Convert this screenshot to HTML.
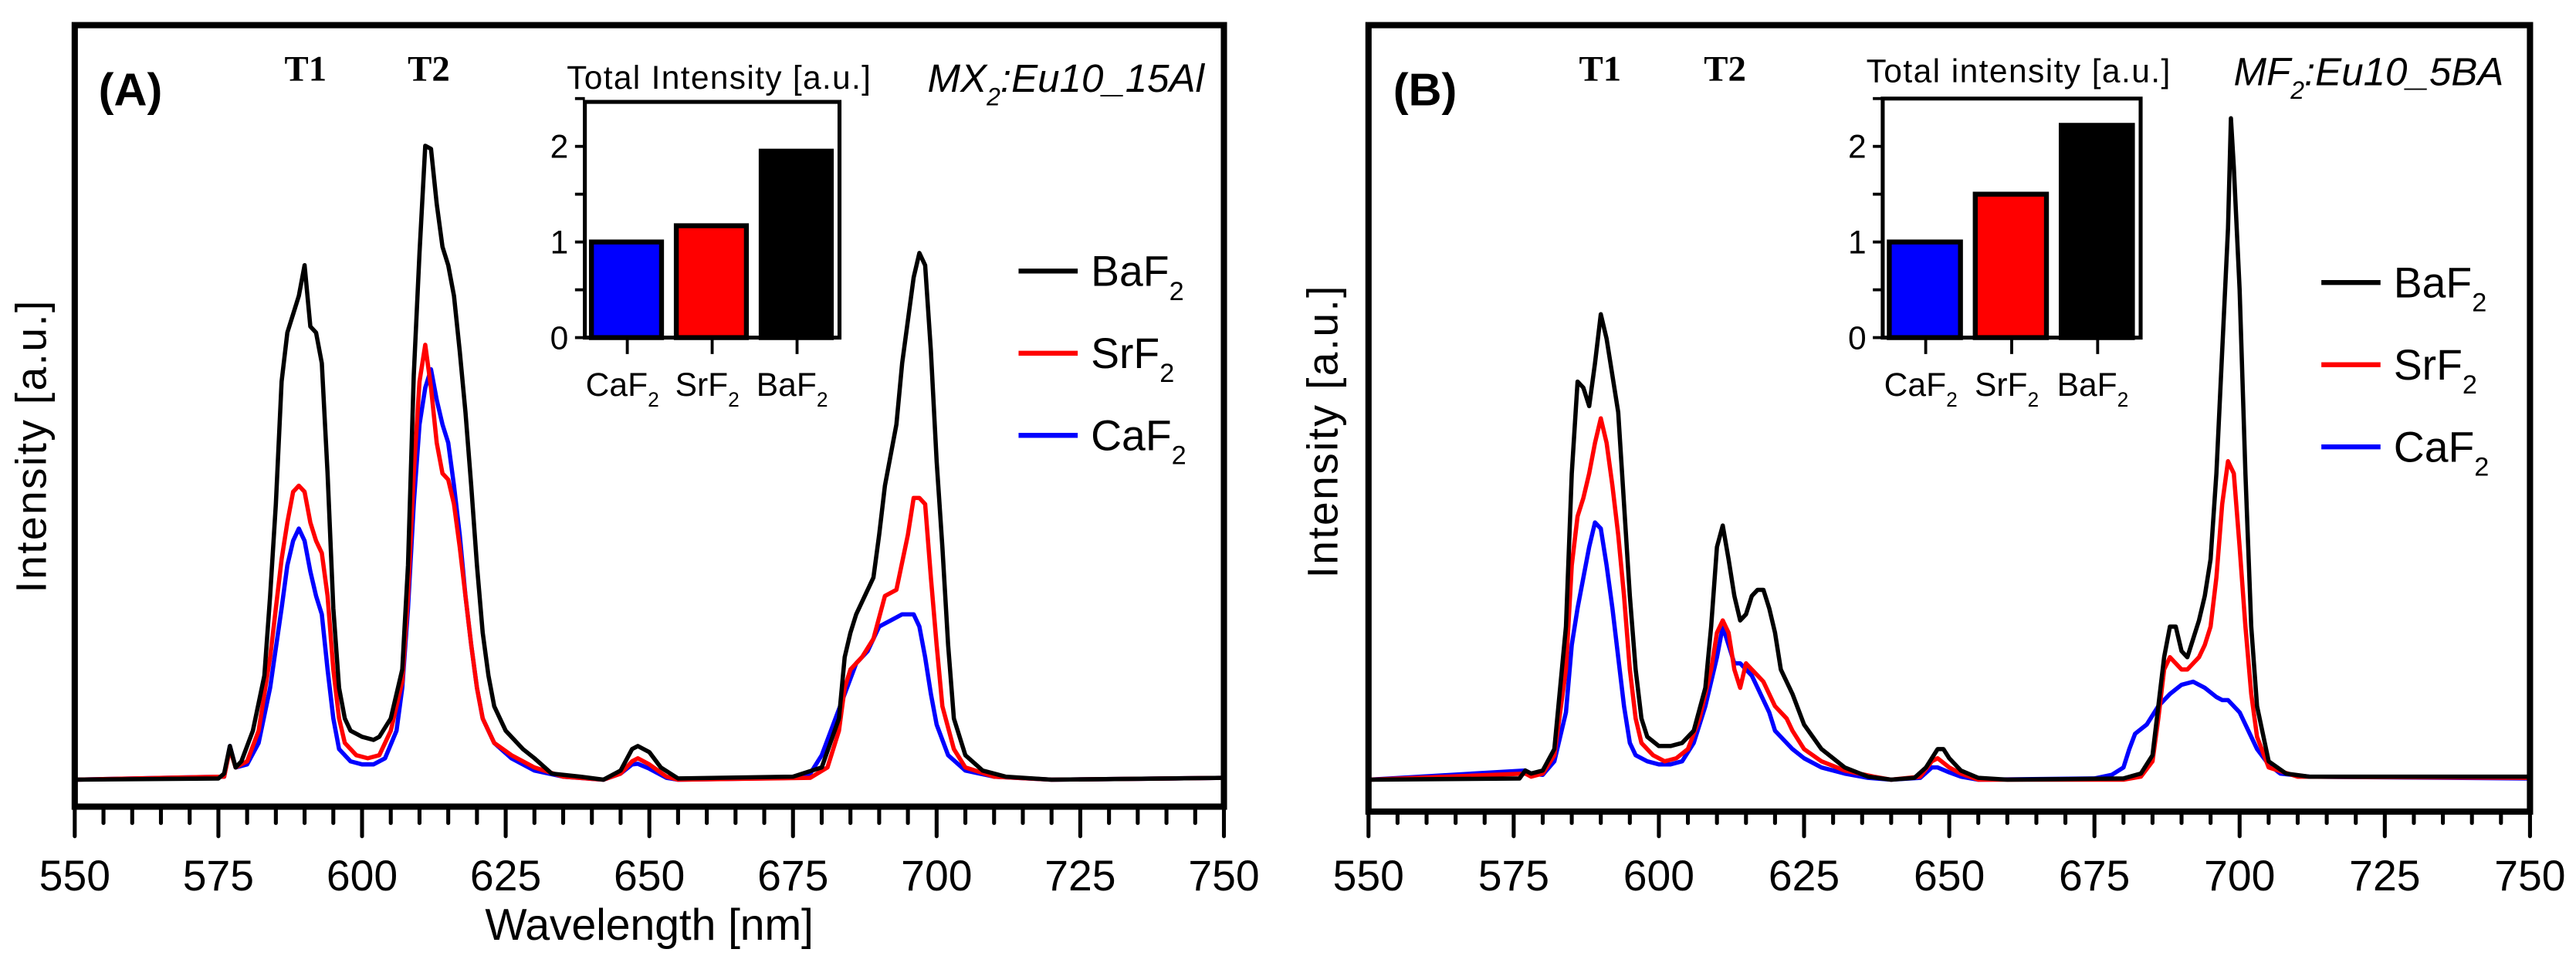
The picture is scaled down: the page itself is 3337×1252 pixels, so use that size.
<!DOCTYPE html>
<html><head><meta charset="utf-8"><style>
html,body{margin:0;padding:0;background:#fff;}
svg{display:block;}
</style></head><body>
<svg id="chart" width="3337" height="1252" viewBox="0 0 1568 588" preserveAspectRatio="none" xmlns="http://www.w3.org/2000/svg" font-family="Liberation Sans, sans-serif">
<rect x="0" y="0" width="1568" height="588" fill="#fff"/>
</svg>
<script>
// ---------- data ----------
const xTicks = [550, 575, 600, 625, 650, 675, 700, 725, 750];
const seriesNames = ["BaF2", "SrF2", "CaF2"];
const seriesColors = ["#000000", "#ff0000", "#0000ff"];

const aBaWl = [550,575,576,577,578,579,581,583,584,585,586,587,588,589,590,591,592,593,594,595,596,597,598,600,602,603,605,607,608,609,610,611,612,613,614,615,616,617,618,619,620,621,622,623,625,628,630,633,638,642,645,647,648,650,652,655,675,680,683,684,685,686,688,689,690,691,693,694,695,696,697,698,699,700,701,702,703,705,708,712,720,750];
const aBaV  = [0,0.2,1,5.5,2,3,8,17,30,45,65,73,76,79,84,74,73,68,50,28,15,10,8,7,6.5,7,10,18,35,66,86,103.5,103,94,87,84,79,70,60,48,35,24,17,12,8,5,3.5,1,0.5,0,1.5,5,5.5,4.5,2,0.2,0.5,2,10,20,24,27,31,33,40,48,58,68,75,82,86,84,70,52,38,22,10,4,1.5,0.5,0,0.3];
const aSrWl = [550,576,577,578,580,582,584,586,587,588,589,590,591,592,593,594,595,596,597,599,601,603,605,607,608,609,610,611,612,613,614,615,616,617,618,619,620,621,623,626,630,635,642,645,647,648,650,653,655,678,681,683,684,685,687,689,691,693,695,696,697,698,699,700,701,703,705,710,720,750];
const aSrV  = [0,0.5,5,2,3,8,20,36,42,47,48,47,42,39,37,30,18,10,6,4,3.5,4,8,16,30,50,65,71,64,55,50,49,45,38,30,22,15,10,6,4,2,0.5,0,1,3,3.5,2.5,0.5,0,0.3,2,8,15,18,20,23,30,31,40,46,46,45,33,22,12,5,2,0.5,0,0.3];
const aCaWl = [550,576,577,578,580,582,584,586,587,588,589,590,591,592,593,594,595,596,598,600,602,604,606,607,608,609,610,611,612,613,614,615,616,617,618,619,620,621,623,626,630,635,642,645,647,648,650,653,655,675,678,680,682,684,686,688,690,692,694,696,697,698,699,700,702,705,710,720,750];
const aCaV  = [0,0.5,5.5,2,2.5,6,15,28,35,39,41,39,34,30,27,18,10,5,3,2.5,2.5,3.5,8,15,28,45,58,64,67,62,58,55,48,40,30,22,15,10,6,3.5,1.5,0.5,0,1,2.5,2.6,1.8,0.3,0,0.3,1,4,9,14,19,21,25,26,27,27,25,20,14,9,4,1.5,0.5,0,0.3];

const bBaWl = [550,576,577,578,580,582,584,585,586,587,588,589,590,591,592,593,594,595,596,597,598,600,602,604,606,608,609,610,611,612,613,614,615,616,617,618,619,620,621,622,623,625,628,632,636,640,644,646,648,649,650,652,655,660,680,683,685,686,687,688,689,690,691,692,693,694,695,696,697,698,698.5,699,700,701,702,703,705,708,712,750];
const bBaV  = [0,0.2,1.5,1,1.5,5,25,50,65,64,61,68,76,72,66,60,45,30,18,10,7,5.5,5.5,6,8,15,25,38,41.5,36,30,26,27,30,31,31,28,24,18,16,14,9,5,2,0.5,0,0.3,2,5,5,3.5,1.5,0.3,0,0.2,1,4,12,20,25,25,21,20,23,26,30,36,50,70,90,108,100,80,50,25,12,3,1,0.5,0.5];
const bSrWl = [550,577,578,580,582,584,585,586,587,588,589,590,591,592,593,594,595,596,597,599,601,603,605,607,609,610,611,612,613,614,615,616,617,618,619,620,622,623,625,628,632,637,640,645,647,648,650,652,655,680,683,685,686,687,688,689,690,691,692,693,694,695,696,697,698,699,700,701,702,703,705,710,750];
const bSrV  = [0,1,0.5,1,4,18,35,43,46,50,55,59,55,48,40,30,18,10,6,4,3,3.5,5,10,18,24,26,24,18,15,19,18,17,16,14,12,10,8,5,3,1.5,0.5,0,0.5,3,3.5,2,1,0,0,0.5,3,10,18,20,19,18,18,19,20,22,25,33,45,52,50,38,25,14,7,2,0.5,0.3];
const bCaWl = [550,577,578,580,582,584,585,586,587,588,589,590,591,592,593,594,595,596,598,600,602,604,606,608,609,610,611,612,613,614,615,616,617,618,619,620,621,623,625,628,632,636,640,645,647,648,650,652,655,675,678,680,681,682,684,686,688,690,692,694,696,697,698,700,702,703,705,707,712,750];
const bCaV  = [0,1.5,1,0.8,3,11,22,28,33,38,42,41,35,28,20,12,6,4,3,2.5,2.5,3,6,12,16,20,25,22,19,19,18,17,15,13,11,8,7,5,3.5,2,1,0.3,0,0.3,2,2,1.2,0.5,0,0.2,0.8,2,5,7.5,9,12,14,15.5,16,15,13.5,13,13,11,7,5,2.5,1,0.5,0.2];

const insetCategories = ["CaF2", "SrF2", "BaF2"];
const insetTicks = [0, 1, 2];
const insetAValues = [1.0, 1.17, 1.95];
const insetBValues = [1.0, 1.5, 2.22];

// ---------- drawing ----------
const NS = "http://www.w3.org/2000/svg";
const svg = document.getElementById("chart");
function el(tag, attrs, parent) {
  const e = document.createElementNS(NS, tag);
  for (const k in attrs) e.setAttribute(k, attrs[k]);
  (parent || svg).appendChild(e);
  return e;
}
function chemText(parent, x, y, base, size, anchor, name) {
  const t = el("text", {x: x, y: y, "font-size": size, "text-anchor": anchor || "start", fill: "#000"}, parent);
  
  
  const s1 = el("tspan", {}, t); s1.textContent = base;
  const s2 = el("tspan", {dy: size * 0.33, "font-size": size * 0.62}, t); s2.textContent = "2";
  return t;
}

function drawPanel(cfg) {
  const g = el("g", {});
  
  
  const L = cfg.left, R = cfg.right, T = 15.3, B = cfg.bottom, base = 474.6;
  const xS = w => L + (w - 550) / 200 * (R - L);
  const yS = v => base - v * 3.728;

  const spectra = [[cfg.ba, cfg.baV], [cfg.sr, cfg.srV], [cfg.ca, cfg.caV]];
  for (let s = 2; s >= 0; s--) {
    const wl = spectra[s][0], vv = spectra[s][1];
    let d = "";
    for (let i = 0; i < wl.length; i++) d += (i ? "L" : "M") + xS(wl[i]).toFixed(2) + "," + yS(vv[i]).toFixed(2);
    const p = el("path", {d: d, fill: "none", stroke: seriesColors[s], "stroke-width": 2.6, "stroke-linejoin": "round"}, g);
    
    
  }
  const fr = el("rect", {x: L, y: T, width: R - L, height: B - T, fill: "none", stroke: "#000", "stroke-width": 3.8}, g);
  
  
  for (let w = 550; w <= 750; w += 5) {
    const major = (w % 25 === 0);
    const tk = el("line", {x1: xS(w), x2: xS(w), y1: B, y2: major ? 509 : 501, stroke: "#000", "stroke-width": 2.4, "stroke-linecap": "round"}, g);
    
    
  }
  xTicks.forEach(w => {
    const t = el("text", {x: xS(w), y: 542, "font-size": 26, "text-anchor": "middle"}, g);
    
    
    t.textContent = w;
  });
  if (cfg.xlabel) {
    const t = el("text", {x: (L + R) / 2, y: 572, "font-size": 27, "text-anchor": "middle", textLength: 200}, g);
    
    
    t.textContent = "Wavelength [nm]";
  }
  const yl = el("text", {x: 0, y: 0, "font-size": 26, "text-anchor": "middle", transform: `translate(${cfg.ylx},${cfg.yly}) rotate(-90)`, textLength: 178}, g);
  
  
  yl.textContent = "Intensity [a.u.]";

  const pl = el("text", {x: cfg.letterX, y: 64, "font-size": 28, "font-weight": "bold"}, g);
  
  
  pl.textContent = cfg.letter;
  [["T1", cfg.t1x], ["T2", cfg.t2x]].forEach(a => {
    const t = el("text", {x: a[1], y: 49, "font-size": 22, "font-weight": "bold", "text-anchor": "middle", "font-family": "Liberation Serif, serif"}, g);
    
    
    t.textContent = a[0];
  });
  const sn = el("text", {x: cfg.snRight, y: cfg.snY, "font-size": 24, "font-style": "italic", "text-anchor": "end"}, g);
  
  
  const s1 = el("tspan", {}, sn); s1.textContent = cfg.snA;
  const s2 = el("tspan", {dy: 8, "font-size": 15}, sn); s2.textContent = "2";
  const s3 = el("tspan", {dy: -8}, sn); s3.textContent = cfg.snB;

  const lg = el("g", {}, g);
  
  
  seriesNames.forEach((n, i) => {
    const y = cfg.legY[i];
    const ln = el("line", {x1: cfg.legX, x2: cfg.legX + 36, y1: y, y2: y, stroke: seriesColors[i], "stroke-width": 3}, lg);
    
    
    chemText(lg, cfg.legX + 44, y + 9, n.slice(0, -1), 26, "start", 'legend-entry-' + n.toLowerCase());
  });

  const ig = el("g", {}, g);
  
  
  const iL = cfg.iL, iR = cfg.iR, iT = cfg.iT, iB = 205.5;
  const iy = v => iB - v * 58.2;
  const slot = (iR - iL) / 3;
  cfg.iVals.forEach((v, i) => {
    const x0 = iL + slot * i + 4, w = slot - 9;
    const r = el("rect", {x: x0, y: iy(v), width: w, height: iB - iy(v), fill: seriesColors[2 - i], stroke: "#000", "stroke-width": 3}, ig);
    
    
    const tk = el("line", {x1: iL + slot * (i + 0.5), x2: iL + slot * (i + 0.5), y1: iB, y2: iB + 10, stroke: "#000", "stroke-width": 1.8}, ig);
    
    
    chemText(ig, iL + slot * (i + 0.5) - 3, 241, insetCategories[i].slice(0, -1), 20, "middle", 'inset-category-label');
  });
  const ib = el("path", {d: `M${iL},${iT}L${iL},${iB}L${iR},${iB}L${iR},${iT}Z`, fill: "none", stroke: "#000", "stroke-width": 2.4}, ig);
  
  
  for (let v = 0; v <= 2.5; v += 0.5) {
    const tk = el("line", {x1: iL - 6, x2: iL, y1: iy(v), y2: iy(v), stroke: "#000", "stroke-width": 1.8}, ig);
    
    
  }
  insetTicks.forEach(v => {
    const t = el("text", {x: iL - 10, y: iy(v) + 7, "font-size": 20, "text-anchor": "end"}, ig);
    
    
    t.textContent = v;
  });
  const it = el("text", {x: (iL + iR) / 2 + 4, y: cfg.iTitleY, "font-size": 20, "text-anchor": "middle", textLength: 185}, ig);
  
  
  it.textContent = cfg.iTitle;
}

drawPanel({id: "panel-a", left: 45.5, right: 745, bottom: 491,
  ba: aBaWl, baV: aBaV, sr: aSrWl, srV: aSrV, ca: aCaWl, caV: aCaV,
  xlabel: true, ylx: 28, yly: 272, letter: "(A)", letterX: 60, t1x: 186, t2x: 261,
  snRight: 733, snY: 56, snA: "MX", snB: ":Eu10_15Al",
  legX: 620, legY: [165, 215, 265],
  iL: 356, iR: 511, iT: 62, iVals: insetAValues, iTitle: "Total Intensity [a.u.]", iTitleY: 54});
drawPanel({id: "panel-b", left: 833, right: 1540, bottom: 494,
  ba: bBaWl, baV: bBaV, sr: bSrWl, srV: bSrV, ca: bCaWl, caV: bCaV,
  xlabel: false, ylx: 814, yly: 263, letter: "(B)", letterX: 848, t1x: 974, t2x: 1050,
  snRight: 1524, snY: 52, snA: "MF", snB: ":Eu10_5BA",
  legX: 1413, legY: [172, 222, 272],
  iL: 1146, iR: 1303, iT: 60, iVals: insetBValues, iTitle: "Total intensity [a.u.]", iTitleY: 50});
</script>
</body></html>
